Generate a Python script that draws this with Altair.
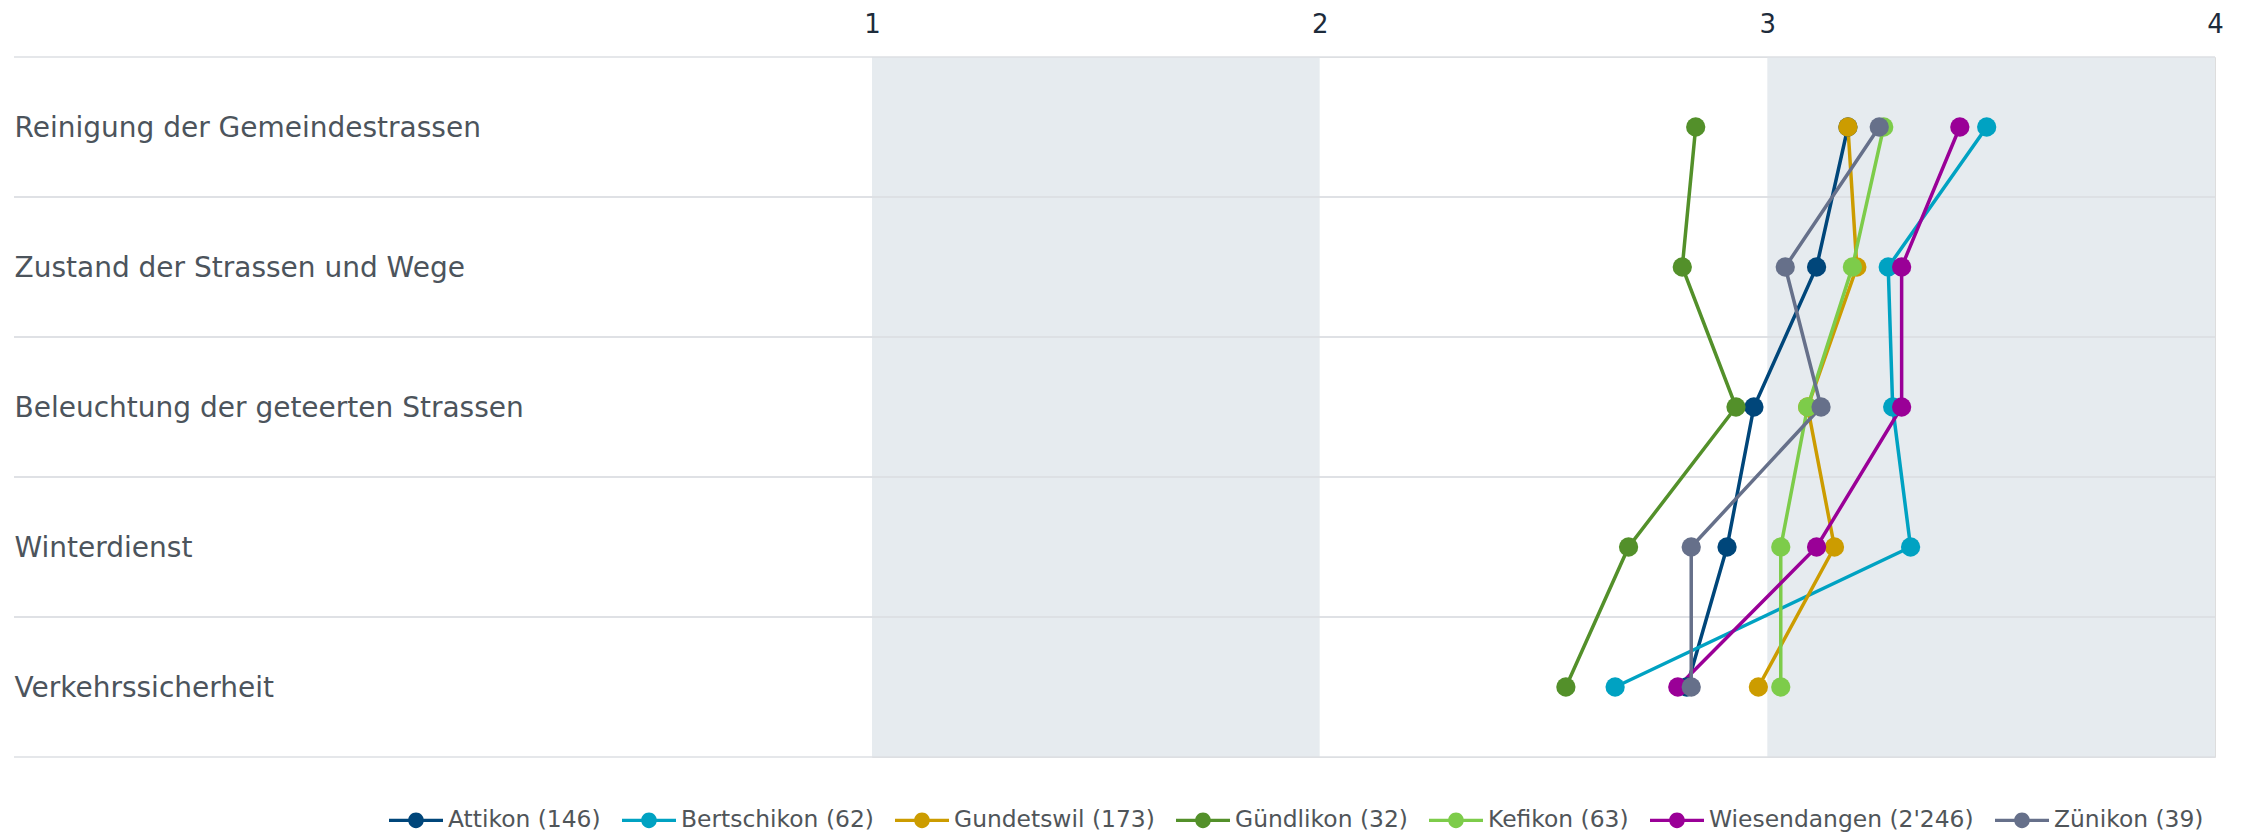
import altair as alt
import pandas as pd

# ---------------- data ----------------
categories = [
    "Reinigung der Gemeindestrassen",
    "Zustand der Strassen und Wege",
    "Beleuchtung der geteerten Strassen",
    "Winterdienst",
    "Verkehrssicherheit",
]
series = [
    "Attikon (146)",
    "Bertschikon (62)",
    "Gundetswil (173)",
    "Gündlikon (32)",
    "Kefikon (63)",
    "Wiesendangen (2'246)",
    "Zünikon (39)",
]
colors = ["#00467a", "#00a2c2", "#cc9c00", "#53902a", "#7dcc4a", "#9a0097", "#66708a"]

attikon = [3.18, 3.11, 2.97, 2.91, 2.82]
bertschikon = [3.49, 3.27, 3.28, 3.32, 2.66]
gundetswil = [3.18, 3.20, 3.09, 3.15, 2.98]
guendlikon = [2.84, 2.81, 2.93, 2.69, 2.55]
kefikon = [3.26, 3.19, 3.09, 3.03, 3.03]
wiesendangen = [3.43, 3.30, 3.30, 3.11, 2.80]
zuenikon = [3.25, 3.04, 3.12, 2.83, 2.83]

tick_values = [1, 2, 3, 4]
band_starts = [1, 3]
band_ends = [2, 4]

all_values = [attikon, bertschikon, gundetswil, guendlikon, kefikon, wiesendangen, zuenikon]

rows = []
for s, vals in zip(series, all_values):
    for i, (c, v) in enumerate(zip(categories, vals)):
        rows.append({"series": s, "cat": c, "idx": i, "value": v})
df = pd.DataFrame(rows)
df_cats = pd.DataFrame({"cat": categories})
df_bands = pd.DataFrame({"start": band_starts, "end": band_ends})

# ---------------- style ----------------
FONT = "DejaVu Sans"
W, H = 1343, 700
LABEL_PAD = 858
GRID = "#dcdfe3"

xscale = alt.Scale(domain=[1, 4], nice=False, zero=False)
xaxis = alt.Axis(
    orient="top", values=tick_values, title=None, domain=False, ticks=False,
    tickSize=0, grid=False, labelFlush=False, labelFontSize=26, labelFont=FONT,
    labelColor="#1d2b3b", labelPadding=20, format="d",
)
yscale = alt.Scale(type="band", paddingInner=0, paddingOuter=0)
yaxis = alt.Axis(
    title=None, domain=False, ticks=False, tickSize=0, grid=False,
    labelAlign="left", labelPadding=LABEL_PAD, labelFontSize=28, labelFont=FONT,
    labelColor="#4c545c", labelLimit=0, labelOffset=1.5,
)

color_scale = alt.Scale(domain=series, range=colors)

PATH = ("M-1,-0.06L1,-0.06L1,0.06L-1,0.06Z "
        "M-0.29,0A0.29,0.29 0 1,1 0.29,0A0.29,0.29 0 1,1 -0.29,0Z")

legend = alt.Legend(
    title=None, orient="none", legendX=-483, legendY=736, direction="horizontal",
    columns=len(series), symbolType=PATH, symbolSize=2916, symbolStrokeWidth=0,
    symbolOpacity=1, labelFontSize=23.4, labelFont=FONT, labelColor="#505559",
    labelOffset=5, columnPadding=21, labelLimit=0,
)

bands = alt.Chart(df_bands).mark_rect(color="#e6ebef").encode(
    x=alt.X("start:Q", scale=xscale, axis=xaxis),
    x2="end:Q",
    y=alt.value(0),
    y2=alt.value(H),
)

rules_top = alt.Chart(df_cats).mark_rule(color=GRID, strokeWidth=1.5).encode(
    y=alt.Y("cat:N", sort=categories, scale=yscale, axis=yaxis, bandPosition=0),
    x=alt.value(-LABEL_PAD),
    x2=alt.value(W),
)
rules_bottom = alt.Chart(df_cats).mark_rule(color=GRID, strokeWidth=1.5).encode(
    y=alt.Y("cat:N", sort=categories, scale=yscale, axis=yaxis, bandPosition=1),
    x=alt.value(-LABEL_PAD),
    x2=alt.value(W),
)

lines = alt.Chart(df).mark_line(strokeWidth=3.5).encode(
    x=alt.X("value:Q", scale=xscale, axis=xaxis),
    y=alt.Y("cat:N", sort=categories, scale=yscale, axis=yaxis),
    color=alt.Color("series:N", scale=color_scale, legend=legend),
    detail="series:N",
    order="idx:Q",
)

points = alt.Chart(df).mark_circle(size=372, opacity=1).encode(
    x=alt.X("value:Q", scale=xscale, axis=xaxis),
    y=alt.Y("cat:N", sort=categories, scale=yscale, axis=yaxis),
    color=alt.Color("series:N", scale=color_scale, legend=legend),
)

chart = alt.layer(bands, rules_top, rules_bottom, lines, points).properties(
    width=W, height=H,
    autosize=alt.AutoSizeParams(type="none"),
    padding={"left": 864, "top": 49, "right": 20, "bottom": 77},
).configure_view(stroke=None).configure(background="white")

chart.save("out.html", embed_options={"renderer": "svg", "actions": False})
